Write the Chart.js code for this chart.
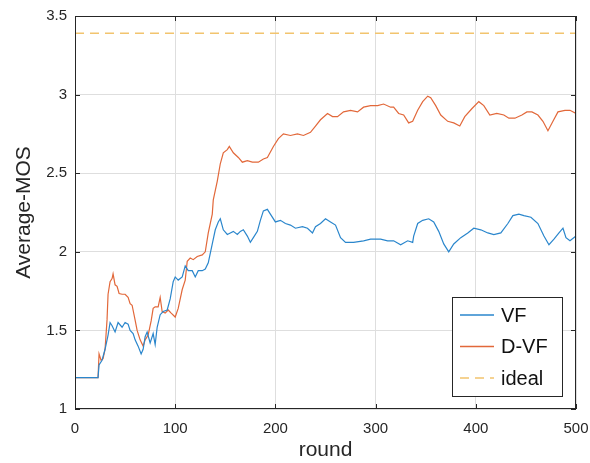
<!DOCTYPE html>
<html>
<head>
<meta charset="utf-8">
<script src="https://cdn.jsdelivr.net/npm/chart.js@4.4.1/dist/chart.umd.min.js"></script>
<style>
  html, body { margin: 0; padding: 0; background: #fff; }
  #wrap { width: 590px; height: 463px; position: relative; }
</style>
</head>
<body>
<div id="wrap"><canvas id="chart"></canvas></div>
<script>
// --- data ---
const vfRounds = [0, 23, 24, 27, 30, 33, 35, 37, 40, 43, 47, 50, 53, 55, 58, 60, 63, 66, 68, 70, 72, 75, 78, 80, 82, 85, 88, 92, 95, 98,
  100, 103, 107, 110, 113, 117, 120, 123, 127, 130, 133, 137, 140, 143, 145, 148, 152, 155, 158, 162, 165, 168, 172, 175, 178, 182, 185, 188, 192, 195,
  200, 205, 210, 215, 220, 227, 232, 237, 240, 245, 250, 255, 260, 265, 270, 278, 288, 295,
  305, 312, 318, 325, 332, 337, 338, 342, 347, 353, 358, 363, 368, 373, 378, 385, 392, 398,
  405, 412, 418, 425, 432, 437, 443, 448, 455, 462, 468, 473, 478, 483, 487, 490, 494, 500];
const vfValues = [1.2, 1.2, 1.28, 1.31, 1.38, 1.47, 1.55, 1.53, 1.49, 1.55, 1.52, 1.55, 1.54, 1.50, 1.48, 1.44, 1.40, 1.35, 1.38, 1.46, 1.49, 1.42, 1.48, 1.41, 1.52, 1.60, 1.62, 1.63, 1.70, 1.81,
  1.84, 1.82, 1.84, 1.91, 1.88, 1.88, 1.84, 1.88, 1.88, 1.89, 1.93, 2.05, 2.14, 2.19, 2.21, 2.14, 2.11, 2.12, 2.13, 2.11, 2.13, 2.14, 2.10, 2.06, 2.09, 2.13, 2.20, 2.26, 2.27, 2.24,
  2.19, 2.20, 2.18, 2.17, 2.15, 2.16, 2.15, 2.12, 2.16, 2.18, 2.21, 2.19, 2.17, 2.09, 2.06, 2.06, 2.07, 2.08,
  2.08, 2.07, 2.07, 2.045, 2.07, 2.06, 2.10, 2.18, 2.20, 2.21, 2.19, 2.13, 2.05, 2.00, 2.05, 2.09, 2.12, 2.15,
  2.14, 2.12, 2.11, 2.12, 2.18, 2.23, 2.24, 2.23, 2.22, 2.18, 2.10, 2.045, 2.08, 2.12, 2.15, 2.09, 2.07, 2.10];

const dvfRounds = [0, 23, 24, 26, 28, 30, 32, 33, 35, 37, 38, 40, 42, 44, 47, 50, 53, 55, 57, 60, 62, 65, 68, 70, 73, 76, 78, 80, 83, 85, 87, 90, 93, 96,
  100, 103, 107, 110, 112, 115, 118, 122, 127, 130, 133, 137, 138, 142, 145, 148, 152, 154, 158, 163, 167, 172, 177, 183, 188, 192, 198,
  203, 208, 215, 222, 228, 235, 240, 245, 252, 257, 262, 268, 275, 282, 288, 295,
  302, 308, 315, 318, 323, 328, 333, 337, 342, 347, 352, 355, 360, 365, 372, 378, 384, 389, 396,
  403, 408, 414, 421, 428, 433, 439, 446, 451, 456, 462, 467, 472, 477, 482, 489, 494, 500];
const dvfValues = [1.2, 1.2, 1.35, 1.31, 1.32, 1.38, 1.57, 1.73, 1.81, 1.83, 1.86, 1.79, 1.78, 1.735, 1.73, 1.73, 1.71, 1.67, 1.66, 1.565, 1.50, 1.44, 1.40, 1.44, 1.47, 1.56, 1.64, 1.65, 1.65, 1.71, 1.62, 1.61, 1.63, 1.61,
  1.585, 1.64, 1.76, 1.82, 1.94, 1.96, 1.95, 1.97, 1.98, 2.0, 2.12, 2.24, 2.33, 2.45, 2.56, 2.63, 2.65, 2.67, 2.63, 2.60, 2.57, 2.58, 2.57, 2.57, 2.59, 2.60, 2.67,
  2.72, 2.75, 2.74, 2.75, 2.74, 2.76, 2.80, 2.84, 2.88, 2.86, 2.86, 2.89, 2.90, 2.89, 2.92, 2.93,
  2.93, 2.94, 2.92, 2.92, 2.88, 2.87, 2.82, 2.83, 2.90, 2.955, 2.99, 2.98, 2.93, 2.87, 2.83, 2.82, 2.80, 2.86, 2.91,
  2.955, 2.93, 2.87, 2.88, 2.87, 2.85, 2.85, 2.87, 2.89, 2.89, 2.87, 2.83, 2.77, 2.83, 2.89, 2.90, 2.90, 2.88];

const idealRounds = [0, 500];
const idealValues = [3.39, 3.39];

const xTicks = [0, 100, 200, 300, 400, 500];
const yTicks = [1, 1.5, 2, 2.5, 3, 3.5];

const toPoints = (xs, ys) => xs.map((x, i) => ({ x: x, y: ys[i] }));

const FONT = '"Liberation Sans", Arial, sans-serif';

// box round the plot, inward ticks, and legend inside the axes
const boxPlugin = {
    id: 'boxPlugin',
    afterDraw(chart) {
        const { ctx, chartArea: a, scales } = chart;
        ctx.save();
        ctx.strokeStyle = '#262626';
        ctx.lineWidth = 1;
        ctx.strokeRect(a.left + 0.5, a.top + 0.5, a.right - a.left - 1, a.bottom - a.top - 1);
        ctx.beginPath();
        xTicks.forEach(v => {
            const px = Math.round(scales.x.getPixelForValue(v)) + 0.5;
            ctx.moveTo(px, a.bottom); ctx.lineTo(px, a.bottom - 5);
            ctx.moveTo(px, a.top); ctx.lineTo(px, a.top + 5);
        });
        yTicks.forEach(v => {
            const py = Math.round(scales.y.getPixelForValue(v)) + 0.5;
            ctx.moveTo(a.left, py); ctx.lineTo(a.left + 5, py);
            ctx.moveTo(a.right, py); ctx.lineTo(a.right - 5, py);
        });
        ctx.stroke();

        // legend
        const w = 110, h = 99;
        const lx = a.right - 14 - w, ly = a.bottom - 13 - h;
        ctx.fillStyle = '#fff';
        ctx.fillRect(lx, ly, w, h);
        ctx.strokeStyle = '#262626';
        ctx.strokeRect(lx + 0.5, ly + 0.5, w, h);
        ctx.font = '20px ' + FONT;
        ctx.textBaseline = 'middle';
        chart.data.datasets.forEach((ds, i) => {
            const yy = ly + 18 + i * 31.5;
            ctx.beginPath();
            ctx.strokeStyle = ds.borderColor;
            ctx.lineWidth = 1.5;
            ctx.setLineDash(ds.borderDash || []);
            ctx.moveTo(lx + 8, yy); ctx.lineTo(lx + 42, yy);
            ctx.stroke();
            ctx.setLineDash([]);
            ctx.fillStyle = '#111';
            ctx.fillText(ds.label, lx + 49, yy + 1);
        });
        ctx.restore();
    }
};

new Chart(document.getElementById('chart'), {
    type: 'line',
    data: {
        datasets: [
            { label: 'VF', data: toPoints(vfRounds, vfValues), borderColor: '#2a86cc', borderWidth: 1.2, pointRadius: 0, tension: 0 },
            { label: 'D-VF', data: toPoints(dvfRounds, dvfValues), borderColor: '#e2683a', borderWidth: 1.2, pointRadius: 0, tension: 0 },
            { label: 'ideal', data: toPoints(idealRounds, idealValues), borderColor: '#f2c46e', borderWidth: 1.6, borderDash: [9, 6], pointRadius: 0 }
        ]
    },
    options: {
        responsive: true,
        maintainAspectRatio: false,
        animation: false,
        layout: { padding: { top: 16, right: 14, left: 0, bottom: 0 } },
        plugins: { legend: { display: false }, tooltip: { enabled: false } },
        scales: {
            x: {
                type: 'linear', min: 0, max: 500,
                afterBuildTicks: s => { s.ticks = xTicks.map(v => ({ value: v })); },
                // keep the tick labels from pushing the plot edges in
                afterFit: s => { s.height = 54; s.paddingLeft = 0; s.paddingRight = 0; },
                grid: { color: '#dedede', drawTicks: false },
                border: { display: false },
                ticks: { color: '#262626', font: { family: FONT, size: 15 }, padding: 11, maxRotation: 0, callback: v => String(v) },
                title: { display: true, text: 'round', color: '#262626', font: { family: FONT, size: 21 }, padding: { top: 4, bottom: 0 } }
            },
            y: {
                type: 'linear', min: 1, max: 3.5,
                afterBuildTicks: s => { s.ticks = yTicks.map(v => ({ value: v })); },
                afterFit: s => { s.width = 75; s.paddingTop = 0; s.paddingBottom = 0; },
                grid: { color: '#dedede', drawTicks: false },
                border: { display: false },
                ticks: { color: '#262626', font: { family: FONT, size: 15 }, padding: 8, callback: v => String(v) },
                title: { display: true, text: 'Average-MOS', color: '#262626', font: { family: FONT, size: 21 }, padding: { top: 12, bottom: 0 } }
            }
        }
    },
    plugins: [boxPlugin]
});
</script>
</body>
</html>
